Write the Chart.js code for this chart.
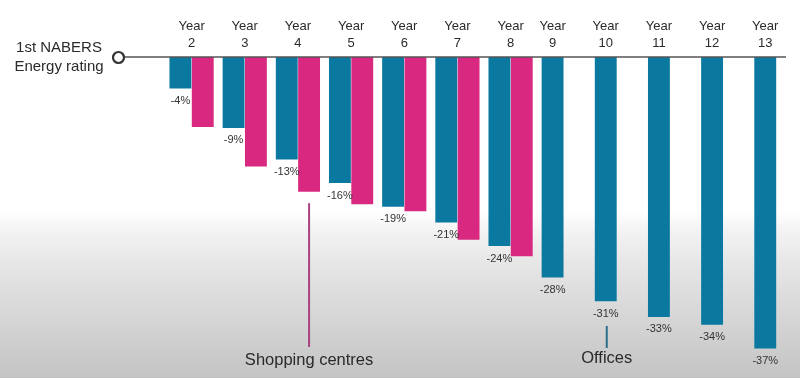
<!DOCTYPE html>
<html>
<head>
<meta charset="utf-8">
<script src="https://cdn.jsdelivr.net/npm/chart.js@4/dist/chart.umd.min.js"></script>
<style>
  html, body { margin: 0; padding: 0; width: 800px; height: 378px; overflow: hidden; }
  body { background: linear-gradient(to bottom, #ffffff 0%, #ffffff 56%, #f3f3f3 61%, #e6e6e6 70%, #d8d8d8 82%, #c4c4c4 100%); }
  #wrap { position: absolute; left: 0; top: 0; width: 810px; height: 378px; }
</style>
</head>
<body>
<div id="wrap"><canvas id="c" width="810" height="378"></canvas></div>
<script>
// ---- data ----
const years = ['2', '3', '4', '5', '6', '7', '8', '9', '10', '11', '12', '13'];
const officesValues = [-4, -9, -13, -16, -19, -21, -24, -28, -31, -33, -34, -37];
const shoppingValues = [-8.9, -13.9, -17.1, -18.7, -19.6, -23.2, -25.3, null, null, null, null, null];
const officesLabels = ['-4%', '-9%', '-13%', '-16%', '-19%', '-21%', '-24%', '-28%', '-31%', '-33%', '-34%', '-37%'];
const baselineLabel = ['1st NABERS', 'Energy rating'];
const shoppingName = 'Shopping centres';
const officesName = 'Offices';

const BLUE = '#0b78a0';
const PINK = '#d8287f';
const FONT = '"Liberation Sans", Arial, sans-serif';

const overlay = {
  id: 'overlay',
  afterDatasetsDraw(chart) {
    const ctx = chart.ctx;
    const xs = chart.scales.x, ys = chart.scales.y;
    const m0 = chart.getDatasetMeta(0), m1 = chart.getDatasetMeta(1);
    const y0 = ys.getPixelForValue(0);
    ctx.save();
    // baseline axis
    ctx.strokeStyle = '#555';
    ctx.lineWidth = 1.5;
    ctx.beginPath();
    ctx.moveTo(125, y0);
    ctx.lineTo(786, y0);
    ctx.stroke();
    // circle marker
    ctx.beginPath();
    ctx.arc(118.5, y0 + 0.5, 5.5, 0, Math.PI * 2);
    ctx.fillStyle = '#fff';
    ctx.fill();
    ctx.lineWidth = 2.2;
    ctx.strokeStyle = '#333';
    ctx.stroke();
    // baseline label
    ctx.fillStyle = '#2b2b2b';
    ctx.font = '15px ' + FONT;
    ctx.textAlign = 'center';
    ctx.textBaseline = 'middle';
    ctx.fillText(baselineLabel[0], 59, y0 - 9);
    ctx.fillText(baselineLabel[1], 59, y0 + 10);
    // year labels
    ctx.font = '13px ' + FONT;
    years.forEach((yr, i) => {
      const x = shoppingValues[i] == null ? m0.data[i].x : xs.getPixelForValue(i);
      ctx.fillText('Year', x, y0 - 31);
      ctx.fillText(yr, x, y0 - 14);
    });
    // value labels
    ctx.font = '11px ' + FONT;
    ctx.fillStyle = '#333';
    officesLabels.forEach((lab, i) => {
      const b = m0.data[i];
      ctx.fillText(lab, b.x, b.y + 12.5);
    });
    // Shopping centres annotation
    const pb = m1.data[2];
    ctx.strokeStyle = '#a8437f';
    ctx.lineWidth = 2;
    ctx.beginPath();
    ctx.moveTo(pb.x, pb.y + 11.5);
    ctx.lineTo(pb.x, 347);
    ctx.stroke();
    ctx.fillStyle = '#2a2a2a';
    ctx.font = '16.5px ' + FONT;
    ctx.fillText(shoppingName, pb.x, 360);
    // Offices annotation
    const ob = m0.data[8];
    ctx.strokeStyle = '#2a6f8c';
    ctx.beginPath();
    ctx.moveTo(ob.x + 1, 326);
    ctx.lineTo(ob.x + 1, 348);
    ctx.stroke();
    ctx.fillText(officesName, ob.x + 1, 358);
    ctx.restore();
  }
};

new Chart(document.getElementById('c'), {
  type: 'bar',
  data: {
    labels: years,
    datasets: [
      { label: officesName, data: officesValues, backgroundColor: BLUE },
      { label: shoppingName, data: shoppingValues, backgroundColor: PINK }
    ]
  },
  options: {
    responsive: false,
    animation: false,
    categoryPercentage: 0.84,
    barPercentage: 0.98,
    layout: { padding: { left: 165, right: 7, top: 57, bottom: 6 } },
    plugins: { legend: { display: false }, tooltip: { enabled: false } },
    scales: {
      x: { display: false, offset: true },
      y: { display: false, min: -40, max: 0 }
    }
  },
  plugins: [overlay]
});
</script>
</body>
</html>
